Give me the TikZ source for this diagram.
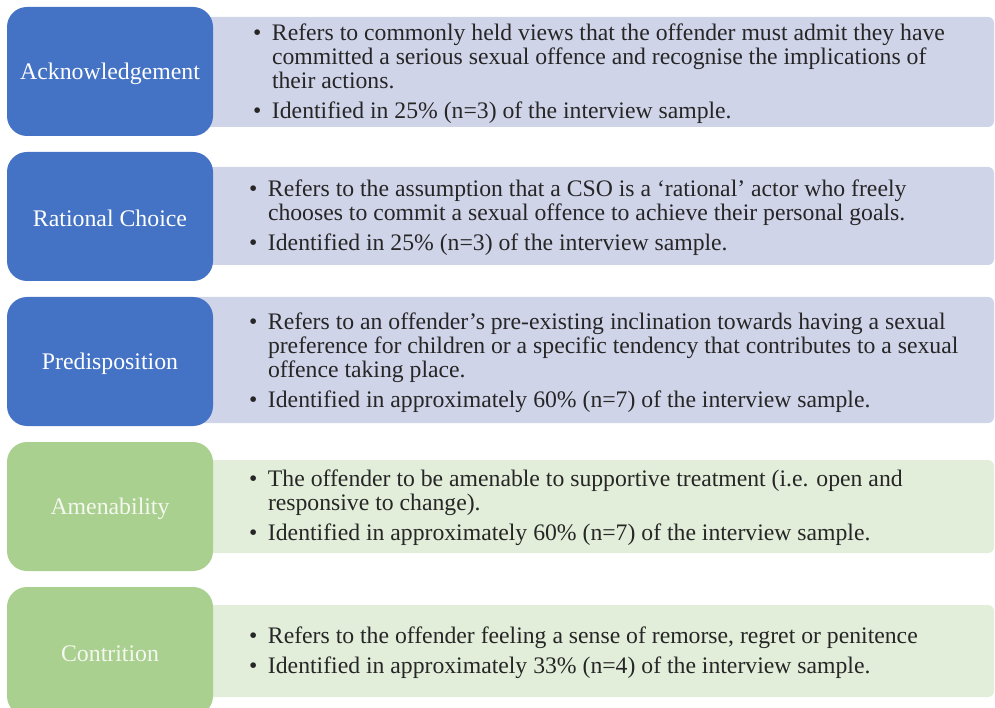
\documentclass[tikz,border=0pt]{standalone}
\usepackage{fontspec}
\setmainfont{Liberation Serif}
\definecolor{bluebox}{HTML}{4472C4}
\definecolor{bluelight}{HTML}{D0D4E9}
\definecolor{greenbox}{HTML}{A9D08E}
\definecolor{greenlight}{HTML}{E2EEDA}
\definecolor{bodytext}{HTML}{262626}
\definecolor{greentext}{HTML}{F4F8F0}
\tikzset{
  x=1pt,y=-1pt,
  labelbox/.style={rounded corners=20pt,draw=none},
  detailbox/.style={rounded corners=6pt,draw=none},
  labeltext/.style={font=\fontsize{23.8}{26}\selectfont,text=white,inner sep=0pt},
  bodynode/.style={font=\fontsize{23.7}{24}\selectfont,text=bodytext,inner sep=0pt,anchor=west},
}
\newcommand{\bl}{\textbullet}
\begin{document}
\begin{tikzpicture}
\useasboundingbox (0,0) rectangle (995,708);
% row 1
\fill[bluelight,detailbox] (190,17) rectangle (994,127);
\fill[bluebox,labelbox] (7,7) rectangle (213,136);
\node[labeltext] (l1) at (110,73.5) {Acknowledgement};
\node[bodynode] (t1) at (253,75) {\begin{tabular}{@{}l@{\hspace{10.5pt}}l@{}}
\bl & Refers to commonly held views that the offender must admit they have\\
 & committed a serious sexual offence and recognise the implications of\\
 & their actions.\\[6pt]
\bl & Identified in 25\% (n=3) of the interview sample.
\end{tabular}};
% row 2
\fill[bluelight,detailbox] (190,167) rectangle (994,265);
\fill[bluebox,labelbox] (7,152) rectangle (213,281);
\node[labeltext] (l2) at (110,218.5) {Rational Choice};
\node[bodynode] (t2) at (249,219) {\begin{tabular}{@{}l@{\hspace{10.5pt}}l@{}}
\bl & Refers to the assumption that a CSO is a ‘rational’ actor who freely\\
 & chooses to commit a sexual offence to achieve their personal goals.\\[6pt]
\bl & Identified in 25\% (n=3) of the interview sample.
\end{tabular}};
% row 3
\fill[bluelight,detailbox] (190,297) rectangle (994,423);
\fill[bluebox,labelbox] (7,297) rectangle (213,426);
\node[labeltext] (l3) at (110,363.5) {Predisposition};
\node[bodynode] (t3) at (249,364) {\begin{tabular}{@{}l@{\hspace{10.5pt}}l@{}}
\bl & Refers to an offender’s pre-existing inclination towards having a sexual\\
 & preference for children or a specific tendency that contributes to a sexual\\
 & offence taking place.\\[6pt]
\bl & Identified in approximately 60\% (n=7) of the interview sample.
\end{tabular}};
% row 4
\fill[greenlight,detailbox] (190,460) rectangle (994,553);
\fill[greenbox,labelbox] (7,442) rectangle (213,571);
\node[labeltext,text=greentext] (l4) at (110,508.5) {Amenability};
\node[bodynode] (t4) at (249,509) {\begin{tabular}{@{}l@{\hspace{10.5pt}}l@{}}
\bl & The offender to be amenable to supportive treatment (i.e. open and\\
 & responsive to change).\\[6pt]
\bl & Identified in approximately 60\% (n=7) of the interview sample.
\end{tabular}};
% row 5
\fill[greenlight,detailbox] (190,605) rectangle (994,697);
\fill[greenbox,labelbox] (7,587) rectangle (213,716);
\node[labeltext,text=greentext] (l5) at (110,653.5) {Contrition};
\node[bodynode] (t5) at (249,654) {\begin{tabular}{@{}l@{\hspace{10.5pt}}l@{}}
\bl & Refers to the offender feeling a sense of remorse, regret or penitence\\[6pt]
\bl & Identified in approximately 33\% (n=4) of the interview sample.
\end{tabular}};
\end{tikzpicture}
\end{document}
